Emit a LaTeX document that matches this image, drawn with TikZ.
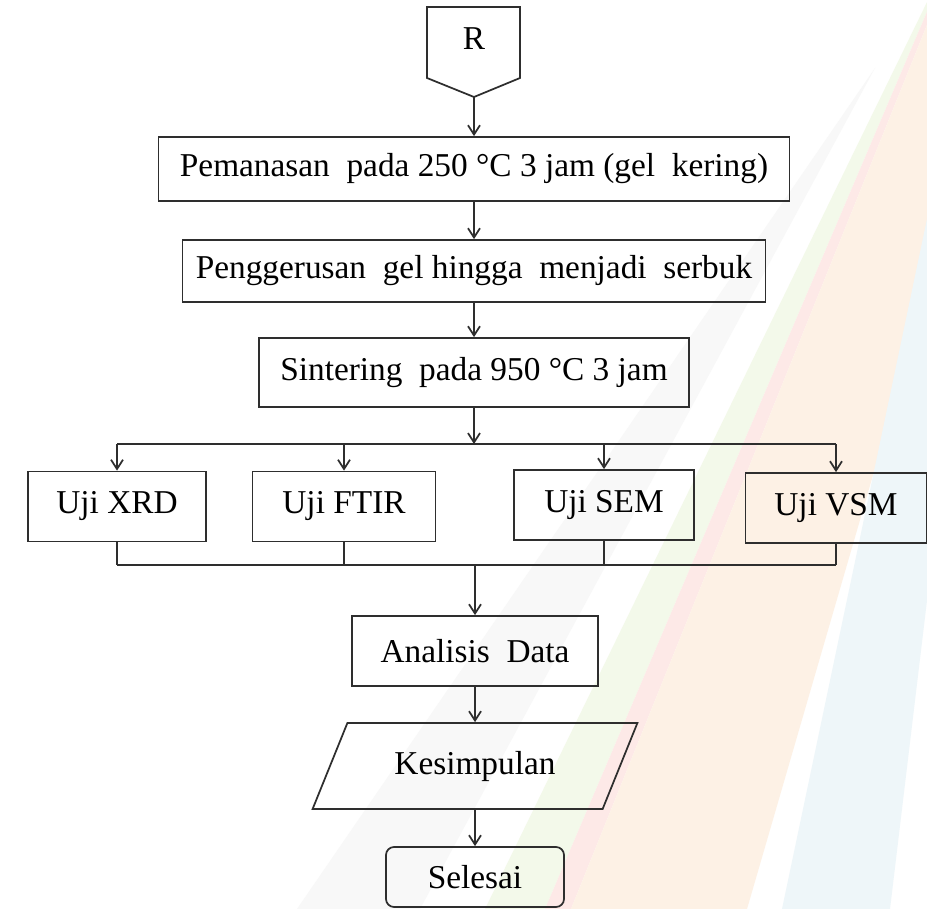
\documentclass[tikz,border=0pt]{standalone}
\usepackage{fontspec}
\setmainfont{Liberation Serif}
\usetikzlibrary{arrows.meta,shapes.geometric}
\definecolor{linec}{HTML}{2E2E2E}
\definecolor{bggrey}{HTML}{F8F8F8}
\definecolor{bggreen}{HTML}{F3F9EA}
\definecolor{bgpink}{HTML}{FDE9E7}
\definecolor{bgorange}{HTML}{FDF1E5}
\definecolor{bgblue}{HTML}{EEF6F9}
\begin{document}
\begin{tikzpicture}[x=0.75pt,y=-0.75pt,
  line width=1.3pt,
  every node/.style={font=\fontsize{25}{30}\selectfont, text=black},
  box/.style={draw=linec, rectangle, inner sep=0pt},
  flow/.style={draw=linec, -{Straight Barb[length=7pt,width=9pt]}},
  link/.style={draw=linec}]
\useasboundingbox (0,0) rectangle (927,909);

% pale background wedges
\begin{scope}
  \clip (0,0) rectangle (927,909);
  \fill[white] (0,0) rectangle (927,909);
  \fill[bggrey]   (875,68)  -- (297,909) -- (420,909) -- cycle;
  \fill[bggreen]  (485,909) -- (928,0) -- (932,0) -- (545,909) -- cycle;
  \fill[bgpink]   (545,909) -- (932,0) -- (937,0) -- (571,909) -- cycle;
  \fill[bgorange] (571,909) -- (937,0) -- (1011,0) -- (747,909) -- cycle;
  \fill[bgblue]   (782,909) -- (973,0) -- (999,0) -- (890,909) -- cycle;
\end{scope}

% off-page connector R
\node (r) at (474,39) {R};
\draw[link] (427,7) -- (520,7) -- (520,78) -- (474,97) -- (427,78) -- cycle;
\coordinate (rtip) at (474,97);

% main process steps
\node[box, minimum width=473.25pt, minimum height=48pt] (heat) at (474,169)
  {Pemanasan\ \ pada 250 °C 3 jam (gel\ \ kering)};
\node[box, minimum width=437.25pt, minimum height=46.5pt] (grind) at (474,271)
  {Penggerusan\ \ gel hingga\ \ menjadi\ \ serbuk};
\node[box, minimum width=322.5pt, minimum height=51.75pt] (sinter) at (474,372.5)
  {Sintering\ \ pada 950 °C 3 jam};

% characterisation tests
\node[box, minimum width=133.5pt, minimum height=52.5pt] (xrd) at (117,506.5) {Uji XRD};
\node[box, minimum width=137.25pt, minimum height=52.5pt] (ftir) at (344,506.5) {Uji FTIR};
\node[box, minimum width=135pt, minimum height=52.5pt] (sem) at (604,505) {Uji SEM};
\node[box, minimum width=135.75pt, minimum height=52.5pt] (vsm) at (836,508) {Uji VSM};

\coordinate (split) at (474,444);
\coordinate (join) at (475,565);

% analysis and end
\node[box, minimum width=184.5pt, minimum height=52.5pt] (anal) at (475,651) {Analisis\ \ Data};
\node[draw=linec, trapezium, trapezium left angle=54, trapezium right angle=126,
  trapezium stretches=true, minimum width=243.75pt, minimum height=64.5pt,
  inner sep=0pt] (kes) at (475,766) {Kesimpulan};
\node[box, rounded corners=6pt, minimum width=133.5pt, minimum height=45pt] (done) at (475,877) {Selesai};

% connectors
\draw[flow] (rtip) -- (heat);
\draw[flow] (heat) -- (grind);
\draw[flow] (grind) -- (sinter);
\draw[flow] (sinter) -- (split);
\draw[link] (xrd.north |- split) -- (vsm.north |- split);
\foreach \n in {xrd,ftir,sem,vsm} {
  \draw[flow] (\n.north |- split) -- (\n);
  \draw[link] (\n) -- (\n.south |- join);
}
\draw[link] (xrd.south |- join) -- (vsm.south |- join);
\draw[flow] (join) -- (anal);
\draw[flow] (anal) -- (kes);
\draw[flow] (kes) -- (done);
\end{tikzpicture}
\end{document}
